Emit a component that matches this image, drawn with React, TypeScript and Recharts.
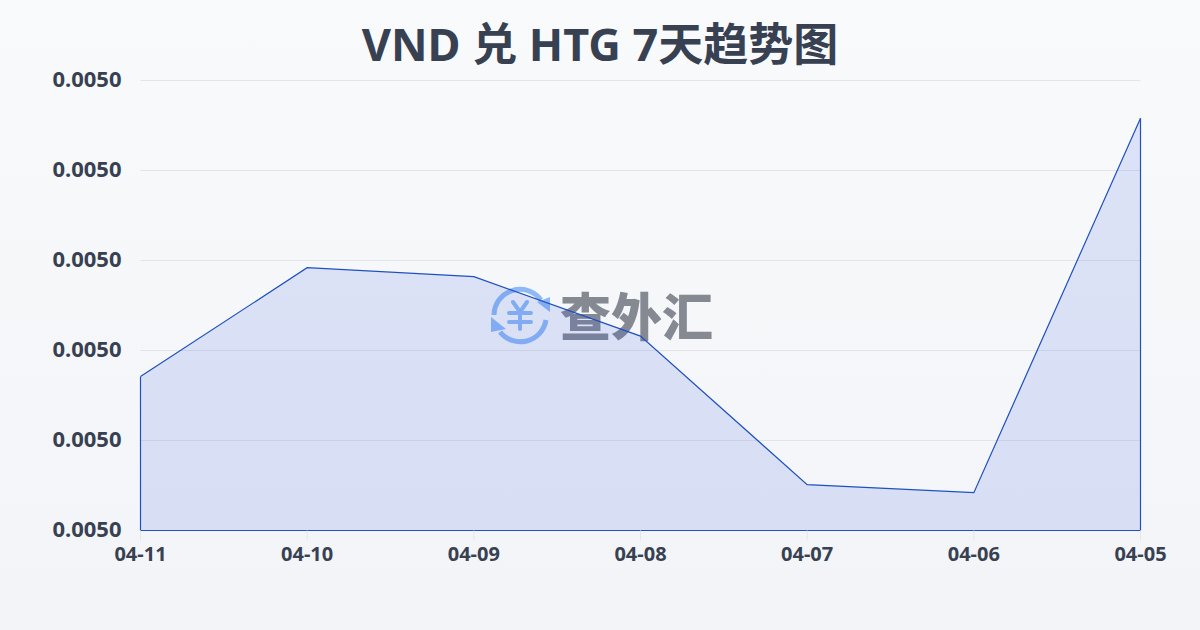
import React from "react";
import {
  AreaChart,
  Area,
  XAxis,
  YAxis,
  CartesianGrid,
  ReferenceLine,
} from "recharts";

const dates = ["04-11", "04-10", "04-09", "04-08", "04-07", "04-06", "04-05"];
const rates = [0.0049771, 0.0049892, 0.0049882, 0.0049816, 0.0049651, 0.0049642, 0.0050058];
const yTicks = [0.00496, 0.00497, 0.00498, 0.00499, 0.005, 0.00501];

const data = dates.map((date, i) => ({ date, rate: rates[i] }));
const yMin = yTicks[0];
const yMax = yTicks[yTicks.length - 1];
const last = dates.length - 1;

const textColor = "#374151";
const lineColor = "#1e50c0";
const font = '"Noto Sans", "Noto Sans CJK SC", sans-serif';

const Watermark = () => (
  <div style={{ position: "absolute", left: 488, top: 280, width: 240, height: 70 }}>
    <svg width="66" height="70" style={{ position: "absolute", left: 0, top: 0 }}>
      <g fill="none" stroke="#8fb8f6" strokeWidth="5">
        <path d="M6 35 A26 26 0 0 1 53 20" />
        <path d="M58 40 A26 26 0 0 1 12 52" />
        <path d="M25 22 L32 32 L39 22 M32 32 V49 M21 33 H43 M21 42 H43" strokeWidth="4" strokeLinecap="round" strokeLinejoin="round" />
      </g>
      <path d="M62 17 L62 32 L49 22 Z M3 37 L3 52 L18 49 Z" fill="#8fb8f6" />
    </svg>
    <div
      style={{
        position: "absolute",
        left: 72,
        top: -1,
        fontFamily: '"Noto Sans CJK SC", sans-serif',
        fontWeight: 900,
        fontSize: 51,
        lineHeight: "70px",
        color: "#858992",
        whiteSpace: "nowrap",
      }}
    >
      查外汇
    </div>
  </div>
);

export default function App() {
  return (
    <div
      style={{
        position: "absolute",
        left: 0,
        top: 0,
        width: 1200,
        height: 630,
        overflow: "hidden",
        background: "linear-gradient(180deg, #f9fafc 0%, #f3f4f7 100%)",
      }}
    >
      <div
        style={{
          position: "absolute",
          top: 14,
          width: 1200,
          textAlign: "center",
          fontFamily: font,
          fontWeight: 700,
          fontSize: 45,
          lineHeight: "60px",
          color: textColor,
        }}
      >
        VND 兑 HTG 7天趋势图
      </div>
      <Watermark />
      <div style={{ position: "absolute", left: 0, top: 0 }}>
        <AreaChart
          width={1200}
          height={630}
          data={data}
          margin={{ top: 80.5, right: 59.5, left: 0.5, bottom: 0 }}
        >
          <CartesianGrid vertical={false} stroke="#e2e4e9" strokeWidth={1} />
          <XAxis
            dataKey="date"
            axisLine={false}
            tickLine={{ stroke: "#e5e7eb" }}
            tickSize={10}
            tickMargin={6}
            interval={0}
            height={99.5}
            tick={{ fill: textColor, fontSize: 20, fontWeight: 700, fontFamily: font }}
          />
          <YAxis
            width={140}
            domain={[yMin, yMax]}
            ticks={yTicks}
            axisLine={false}
            tickLine={false}
            tickSize={0}
            tickMargin={19}
            tickFormatter={(v: number) => v.toFixed(4)}
            tick={{ fill: textColor, fontSize: 22, fontWeight: 700, fontFamily: font, dy: -1.5 }}
          />
          <Area
            type="linear"
            dataKey="rate"
            baseValue={yMin}
            stroke={lineColor}
            strokeWidth={1.2}
            fill="#2f5ee0"
            fillOpacity={0.14}
            dot={false}
            activeDot={false}
            isAnimationActive={false}
          />
          <ReferenceLine
            segment={[{ x: dates[0], y: yMin }, { x: dates[0], y: rates[0] }]}
            stroke={lineColor}
            strokeWidth={1.2}
          />
          <ReferenceLine
            segment={[{ x: dates[last], y: yMin }, { x: dates[last], y: rates[last] }]}
            stroke={lineColor}
            strokeWidth={1.2}
          />
          <ReferenceLine
            segment={[{ x: dates[0], y: yMin }, { x: dates[last], y: yMin }]}
            stroke={lineColor}
            strokeWidth={1.2}
          />
        </AreaChart>
      </div>
    </div>
  );
}
